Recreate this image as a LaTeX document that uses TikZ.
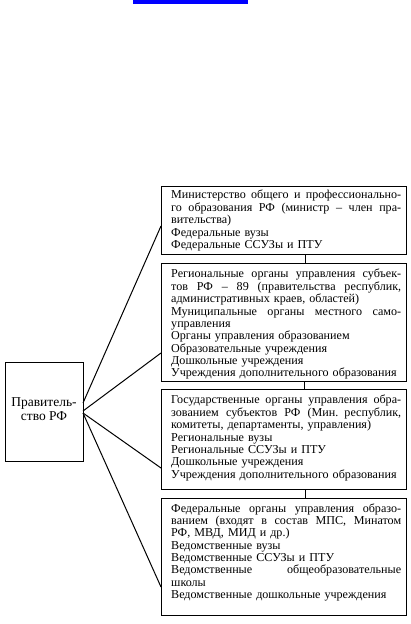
\documentclass[tikz,border=0pt]{standalone}
\usepackage{fontspec}
\setmainfont{Liberation Serif}
\newcommand\jl[1]{{\spaceskip=0.25em plus 1fil\makebox[230pt][s]{#1}}\\}
\begin{document}
\begin{tikzpicture}[x=1pt,y=-1pt,
  boxrect/.style={draw=black,line width=1.2pt,inner sep=0pt,anchor=north west},
  boxtext/.style={inner sep=0pt,anchor=north west,text width=230pt,align=left,
    font=\fontsize{12.1}{12.3}\selectfont},
  link/.style={draw=black,line width=1pt}]
\useasboundingbox (0,0) rectangle (410,624);
\fill[blue] (133,0) rectangle (248,3.5);
% left box
\node[boxrect,minimum width=78pt,minimum height=99pt] (gov) at (5,362) {};
\node[inner sep=0pt,align=center,font=\fontsize{13.5}{13.5}\selectfont] (govtext) at (44,409) {Правитель-\\ство РФ};
% right boxes
\node[boxrect,minimum width=245pt,minimum height=68pt] (b1) at (161,186) {};
\node[boxrect,minimum width=245pt,minimum height=118pt] (b2) at (161,263) {};
\node[boxrect,minimum width=245pt,minimum height=100pt] (b3) at (161,389) {};
\node[boxrect,minimum width=245pt,minimum height=117pt] (b4) at (161,498) {};
\node[boxtext] (t1) at (171,189.4) {\strut
\jl{Министерство общего и профессионально-}
\jl{го образования РФ (министр – член пра-}
вительства)\\
Федеральные вузы\\
Федеральные ССУЗы и ПТУ};
\node[boxtext] (t2) at (171,268.4) {\strut
\jl{Региональные органы управления субъек-}
\jl{тов РФ – 89 (правительства республик,}
административных краев, областей)\\
\jl{Муниципальные органы местного само-}
управления\\
Органы управления образованием\\
Образовательные учреждения\\
Дошкольные учреждения\\
Учреждения дополнительного образования};
\node[boxtext] (t3) at (171,394.4) {\strut
\jl{Государственные органы управления обра-}
\jl{зованием субъектов РФ (Мин. республик,}
комитеты, департаменты, управления)\\
Региональные вузы\\
Региональные ССУЗы и ПТУ\\
Дошкольные учреждения\\
Учреждения дополнительного образования};
\node[boxtext] (t4) at (171,503.4) {\strut
\jl{Федеральные органы управления образо-}
\jl{ванием (входят в состав МПС, Минатом}
РФ, МВД, МИД и др.)\\
Ведомственные вузы\\
Ведомственные ССУЗы и ПТУ\\
\jl{Ведомственные общеобразовательные}
школы\\
Ведомственные дошкольные учреждения};
% vertical ticks between boxes
\draw[link] (b1.south -| 305,0) -- (b2.north -| 305,0);
\draw[link] (b2.south -| 304,0) -- (b3.north -| 304,0);
\draw[link] (b3.south -| 305,0) -- (b4.north -| 305,0);
% fan connectors
\coordinate (s1) at (83,403);
\coordinate (s2) at (83,411);
\coordinate (s3) at (83,413);
\coordinate (e1) at (161,226);
\coordinate (e2) at (161,353);
\coordinate (e3) at (161,468);
\coordinate (e4) at (161,587);
\draw[link] (s1) -- (e1);
\draw[link] (s2) -- (e2);
\draw[link] (s3) -- (e3);
\draw[link] (s3) -- (e4);
\end{tikzpicture}
\end{document}
